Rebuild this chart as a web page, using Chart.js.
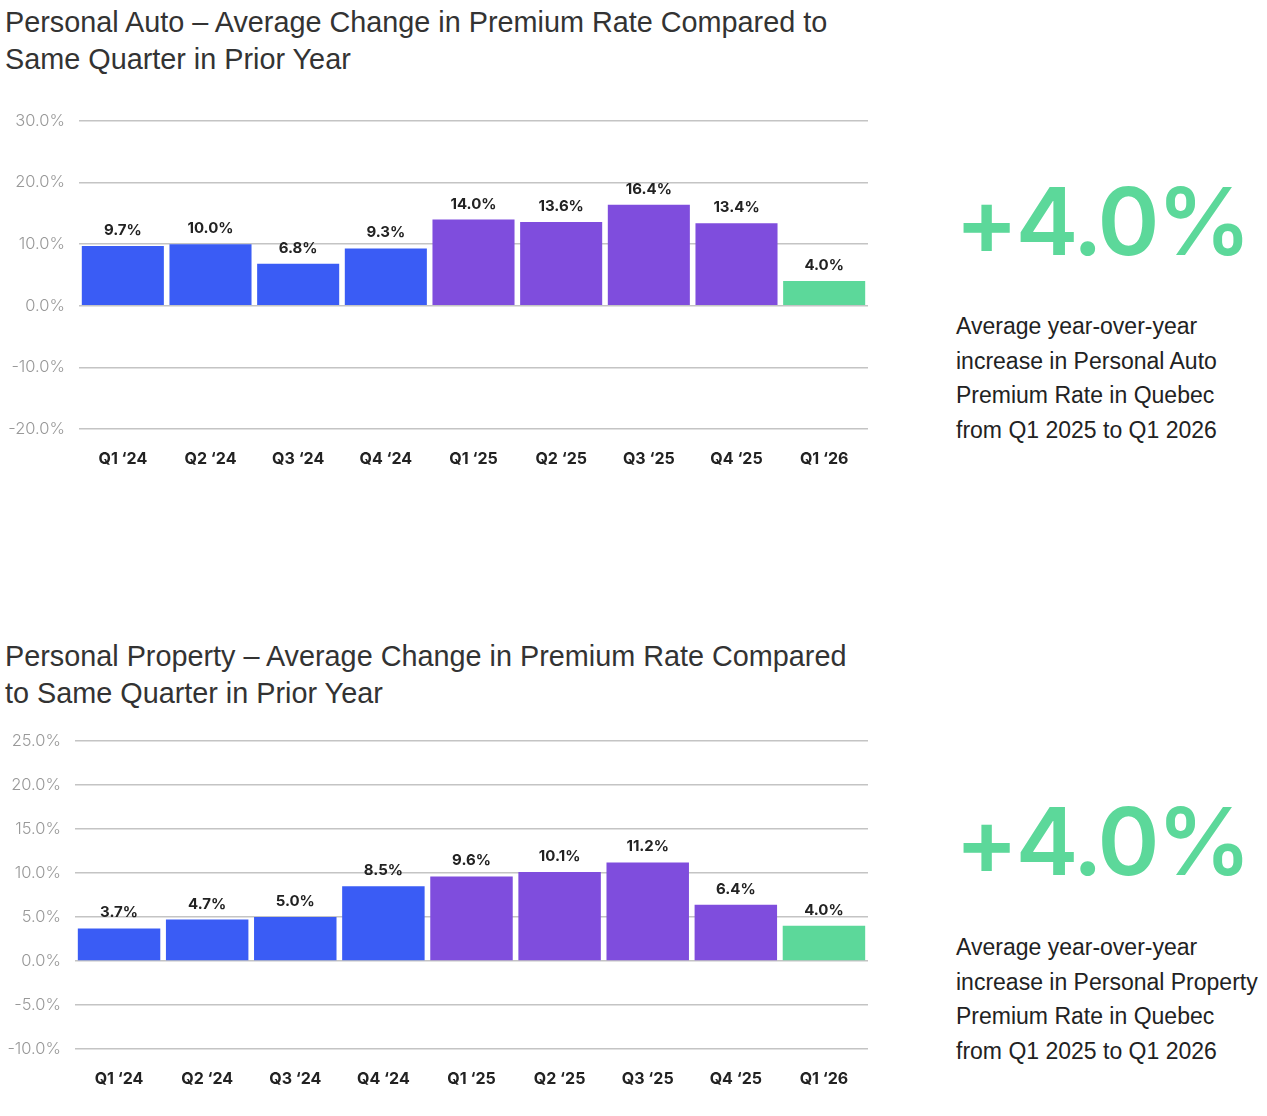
<!DOCTYPE html>
<html>
<head>
<meta charset="utf-8">
<script src="https://cdn.jsdelivr.net/npm/chart.js@4.4.1/dist/chart.umd.min.js"></script>
<style>
  body { margin: 0; background: #fff; width: 1267px; height: 1116px; position: relative; overflow: hidden; font-family: "Liberation Sans", Arial, sans-serif; }
  .title { position: absolute; left: 5px; font-size: 28.8px; line-height: 37px; color: #333; }
  .big { position: absolute; left: 955px; font-family: Inter, sans-serif; font-weight: 600; font-size: 94px; color: #5cd89a; line-height: 1; letter-spacing: -2.5px; }
  .desc { position: absolute; left: 956px; font-size: 23px; line-height: 34.5px; color: #222; }
  .box { position: absolute; left: 0; width: 880px; height: 383px; }
</style>
</head>
<body>
<div class="title" style="top:4px">Personal Auto – Average Change in Premium Rate Compared to<br>Same Quarter in Prior Year</div>
<div class="box" style="top:97px"><canvas id="autoChart"></canvas></div>
<div class="big" style="top:174px">+4.0%</div>
<div class="desc" style="top:309px">Average year-over-year<br>increase in Personal Auto<br>Premium Rate in Quebec<br>from Q1 2025 to Q1 2026</div>

<div class="title" style="top:638px">Personal Property – Average Change in Premium Rate Compared<br>to Same Quarter in Prior Year</div>
<div class="box" style="top:717px"><canvas id="propertyChart"></canvas></div>
<div class="big" style="top:794px">+4.0%</div>
<div class="desc" style="top:930px">Average year-over-year<br>increase in Personal Property<br>Premium Rate in Quebec<br>from Q1 2025 to Q1 2026</div>

<script>
const quarters = ["Q1 \u201824", "Q2 \u201824", "Q3 \u201824", "Q4 \u201824", "Q1 \u201825", "Q2 \u201825", "Q3 \u201825", "Q4 \u201825", "Q1 \u201826"];
const autoValues = [9.7, 10.0, 6.8, 9.3, 14.0, 13.6, 16.4, 13.4, 4.0];
const propertyValues = [3.7, 4.7, 5.0, 8.5, 9.6, 10.1, 11.2, 6.4, 4.0];
const barColors = ["#3a5cf5", "#3a5cf5", "#3a5cf5", "#3a5cf5", "#7f4ddd", "#7f4ddd", "#7f4ddd", "#7f4ddd", "#5cd89a"];

// draws the value above every bar
const valueLabels = {
    id: "valueLabels",
    afterDatasetsDraw(chart) {
        const ctx = chart.ctx;
        const meta = chart.getDatasetMeta(0);
        ctx.save();
        ctx.font = "bold 15px Inter, 'DejaVu Sans', sans-serif";
        ctx.fillStyle = "#222";
        ctx.textAlign = "center";
        ctx.textBaseline = "bottom";
        meta.data.forEach((bar, i) => {
            const v = chart.data.datasets[0].data[i];
            ctx.fillText(v.toFixed(1) + "%", bar.x, bar.y - 8);
        });
        ctx.restore();
    }
};

function makeChart(id, values, yMin, yMax, step, axisWidth) {
    const ctx = document.getElementById(id).getContext("2d");
    return new Chart(ctx, {
        type: "bar",
        data: {
            labels: quarters,
            datasets: [{
                data: values,
                backgroundColor: barColors,
                borderWidth: 0,
                categoryPercentage: 1,
                barPercentage: 0.936
            }]
        },
        plugins: [valueLabels],
        options: {
            responsive: true,
            maintainAspectRatio: false,
            animation: false,
            layout: { padding: { top: 17, right: 12, bottom: 0, left: 0 } },
            plugins: { legend: { display: false }, tooltip: { enabled: false } },
            scales: {
                x: {
                    afterFit: (scale) => { scale.height = 51; },
                    grid: { display: false, drawTicks: false },
                    border: { display: false },
                    ticks: {
                        padding: 21,
                        color: "#222",
                        font: { family: "Inter, 'DejaVu Sans', sans-serif", size: 16, weight: "bold" }
                    }
                },
                y: {
                    min: yMin,
                    max: yMax,
                    afterFit: (scale) => { scale.width = axisWidth; },
                    grid: { color: "#c4c4c4", lineWidth: 1.5, drawTicks: false },
                    border: { display: false },
                    ticks: {
                        stepSize: step,
                        padding: 14,
                        color: "#999",
                        font: { family: "Inter, 'DejaVu Sans', sans-serif", size: 16.5, weight: 300 },
                        callback: (v) => v.toFixed(1) + "%"
                    }
                }
            }
        }
    });
}

makeChart("autoChart", autoValues, -20, 30, 10, 79);
makeChart("propertyChart", propertyValues, -10, 25, 5, 75);
</script>
</body>
</html>
